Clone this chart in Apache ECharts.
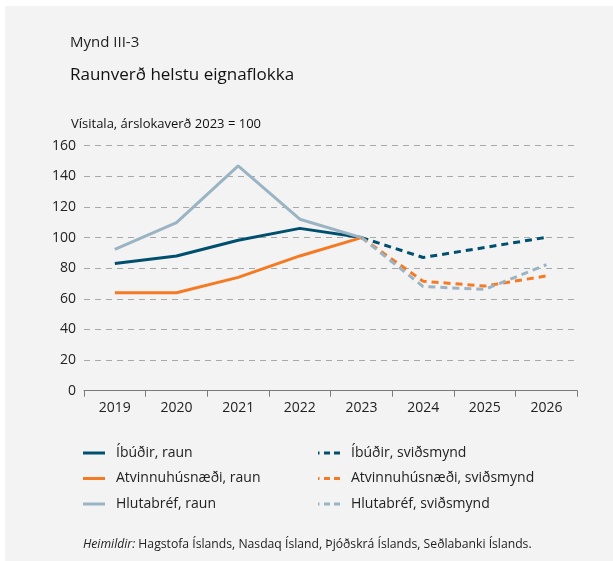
<!DOCTYPE html>
<html>
<head>
<meta charset="utf-8">
<script src="https://cdn.jsdelivr.net/npm/echarts@6/dist/echarts.min.js"></script>
<style>
  html, body { margin: 0; padding: 0; background: #ffffff; }
  #panel { position: absolute; left: 5px; top: 6px; width: 608px; height: 555px; background: #f3f3f3; }
  #chart { position: absolute; left: 0; top: 0; width: 613px; height: 561px; }
</style>
</head>
<body>
<div id="panel"></div>
<div id="chart"></div>
<script>
// Real asset prices, index (end-of-year 2023 = 100)
const years = ['2019', '2020', '2021', '2022', '2023', '2024', '2025', '2026'];

const ibudirRaun        = [83, 88, 98.3, 106, 100, null, null, null];
const ibudirSvid        = [null, null, null, null, 100, 87, 93.5, 100.2];
const atvinnaRaun       = [64, 64, 74, 88, 100, null, null, null];
const atvinnaSvid       = [null, null, null, null, 100, 71.5, 68.3, 75];
const hlutabrefRaun     = [92.3, 109.7, 146.8, 112, 100, null, null, null];
const hlutabrefSvid     = [null, null, null, null, 100, 68, 66.2, 82.3];

const yTicks = { min: 0, max: 160, interval: 20 };

const seriesNames = {
  ibR: 'Íbúðir, raun',
  atR: 'Atvinnuhúsnæði, raun',
  hlR: 'Hlutabréf, raun',
  ibS: 'Íbúðir, sviðsmynd',
  atS: 'Atvinnuhúsnæði, sviðsmynd',
  hlS: 'Hlutabréf, sviðsmynd'
};

const colBlue = '#004f6e';
const colOrange = '#f57a24';
const colGrey = '#9bb4c3';
const FONT = '"Open Sans", "Noto Sans", sans-serif';

function line(name, data, color, dashed) {
  return {
    name: name,
    type: 'line',
    data: data,
    symbol: 'none',
    connectNulls: false,
    lineStyle: { color: color, width: 3, type: dashed ? [7, 5] : 'solid' },
    itemStyle: { color: color },
    emphasis: { disabled: true },
    z: dashed ? 3 : 4
  };
}

const chart = echarts.init(document.getElementById('chart'), null, { renderer: 'canvas' });

const legendText = { fontFamily: FONT, fontSize: 14, color: '#222', padding: [0, 0, 0, 6] };
const solidIcon = 'path://M0,0 L22,0 L22,3 L0,3 Z';
const dashIcon = 'path://M0,0 L1.5,0 L1.5,3 L0,3 Z M6,0 L12,0 L12,3 L6,3 Z M16,0 L22,0 L22,3 L16,3 Z';

chart.setOption({
  backgroundColor: 'transparent',
  animation: false,
  textStyle: { fontFamily: FONT },
  title: [
    { text: 'Mynd III-3', left: 70, top: 35, padding: 0, textStyle: { fontFamily: FONT, fontSize: 15, fontWeight: 'normal', color: '#222' } },
    { text: 'Raunverð helstu eignaflokka', left: 70, top: 67, padding: 0, textStyle: { fontFamily: FONT, fontSize: 17, fontWeight: 'normal', color: '#111' } },
    { text: 'Vísitala, árslokaverð 2023 = 100', left: 71, top: 118, padding: 0, textStyle: { fontFamily: FONT, fontSize: 13, fontWeight: 'normal', color: '#111' } }
  ],
  legend: [
    {
      data: [seriesNames.ibR, seriesNames.atR, seriesNames.hlR],
      orient: 'vertical', left: 78, top: 441,
      itemWidth: 22, itemHeight: 3, itemGap: 11.5,
      icon: solidIcon,
      textStyle: legendText, selectedMode: false
    },
    {
      data: [seriesNames.ibS, seriesNames.atS, seriesNames.hlS],
      orient: 'vertical', left: 313, top: 441,
      itemWidth: 22, itemHeight: 3, itemGap: 11.5,
      icon: dashIcon,
      textStyle: legendText, selectedMode: false
    }
  ],
  grid: { left: 84, right: 35.7, top: 145.7, bottom: 170.3, containLabel: false },
  xAxis: {
    type: 'category',
    data: years,
    boundaryGap: true,
    axisLine: { show: true, lineStyle: { color: '#7a7a7a', width: 1 } },
    axisTick: { show: true, length: 6, lineStyle: { color: '#7a7a7a' } },
    axisLabel: { fontFamily: FONT, fontSize: 14, color: '#222', margin: 10 },
    splitLine: { show: false }
  },
  yAxis: {
    type: 'value',
    min: yTicks.min, max: yTicks.max, interval: yTicks.interval,
    axisLine: { show: false },
    axisTick: { show: false },
    axisLabel: { fontFamily: FONT, fontSize: 14, color: '#222', margin: 8 },
    splitLine: { show: true, lineStyle: { color: '#a8a8a8', type: [6, 5], width: 1 } }
  },
  series: [
    line(seriesNames.ibR, ibudirRaun, colBlue, false),
    line(seriesNames.atR, atvinnaRaun, colOrange, false),
    line(seriesNames.hlR, hlutabrefRaun, colGrey, false),
    line(seriesNames.ibS, ibudirSvid, colBlue, true),
    line(seriesNames.atS, atvinnaSvid, colOrange, true),
    line(seriesNames.hlS, hlutabrefSvid, colGrey, true)
  ],
  graphic: [
    {
      type: 'text', left: 83, top: 539,
      style: {
        text: '{i|Heimildir:} Hagstofa Íslands, Nasdaq Ísland, Þjóðskrá Íslands, Seðlabanki Íslands.',
        font: '12.2px ' + FONT,
        fill: '#222',
        rich: { i: { fontStyle: 'italic', fontFamily: FONT, fontSize: 12.2, fill: '#222' } }
      }
    }
  ]
});
</script>
</body>
</html>
